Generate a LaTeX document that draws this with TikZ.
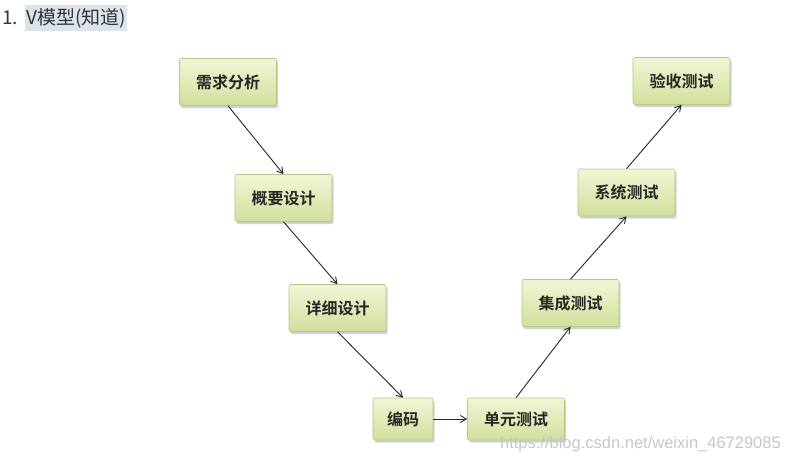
\documentclass[tikz,border=0pt]{standalone}
\usepackage{fontspec}
\setmainfont{Liberation Sans}
\newfontfamily\cjk{Noto Sans CJK SC}
\newfontfamily\cjkb{Noto Sans CJK SC Bold}
\usetikzlibrary{shadows,arrows.meta}
\definecolor{boxtop}{HTML}{F0F6D6}
\definecolor{boxbot}{HTML}{D0E09C}
\definecolor{boxline}{HTML}{B5C585}
\definecolor{hl}{HTML}{DCE3EB}
\begin{document}
\begin{tikzpicture}[x=1pt,y=-1pt,
  vbox/.style={draw=boxline, line width=0.6pt, rounded corners=1.5pt,
    top color=boxtop, bottom color=boxbot, minimum width=97pt, minimum height=47pt,
    inner sep=0pt, font=\cjkb\fontsize{16}{17}\selectfont, text=black!85,
    drop shadow={shadow xshift=1.5pt, shadow yshift=-2.5pt, opacity=0.35}},
  conn/.style={-{Straight Barb[length=6pt,width=7pt]}, line width=0.9pt, draw=black!85}]
\useasboundingbox (0,0) rectangle (790,463);
\fill[white] (0,0) rectangle (790,463);
% header
\node[anchor=west, inner sep=0pt, font=\cjk\fontsize{19}{20}\selectfont, text=black!80] (num) at (2,18) {1.};
\node[anchor=west, fill=hl, inner xsep=1pt, inner ysep=3pt, font=\cjk\fontsize{19}{20}\selectfont, text=black!80] (title) at (25,18) {V模型(知道)};
% boxes
\node[vbox] (a) at (228,82) {需求分析};
\node[vbox] (b) at (283.5,198) {概要设计};
\node[vbox] (c) at (337.5,308) {详细设计};
\node[vbox, minimum width=60pt, minimum height=42pt] (d) at (403,419) {编码};
\node[vbox, minimum height=42pt] (e) at (516,419) {单元测试};
\node[vbox] (f) at (570.5,303) {集成测试};
\node[vbox] (g) at (626.5,192.5) {系统测试};
\node[vbox] (h) at (681.5,81) {验收测试};
% connectors
\draw[conn] (a.south) -- (b.north);
\draw[conn] (b.south) -- (c.north);
\draw[conn] (c.south) -- (d.north);
\draw[conn] (d.east) -- (e.west);
\draw[conn] (e.north) -- (f.south);
\draw[conn] (f.north) -- (g.south);
\draw[conn] (g.north) -- (h.south);
% watermark
\node[anchor=east, inner sep=0pt, font=\fontsize{16.5}{17}\selectfont, text=black!22] (wm) at (781,444) {https://blog.csdn.net/weixin\_46729085};
\end{tikzpicture}
\end{document}
